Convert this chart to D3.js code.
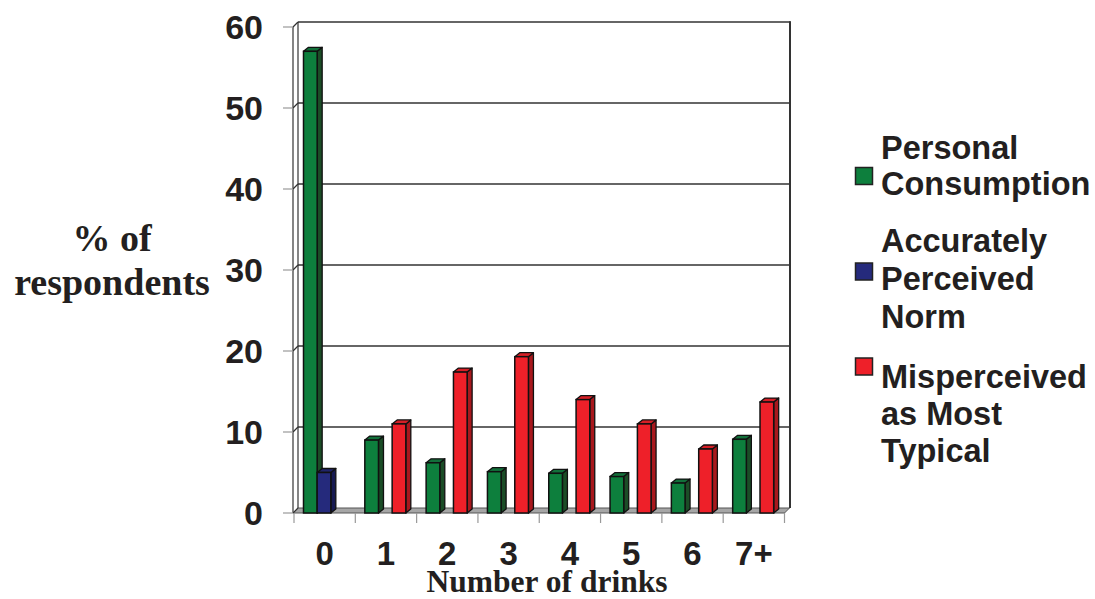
<!DOCTYPE html>
<html>
<head>
<meta charset="utf-8">
<script src="https://cdn.jsdelivr.net/npm/d3@7"></script>
<style>
  html, body { margin: 0; padding: 0; background: #fff; }
  svg { display: block; }
</style>
</head>
<body>
<svg id="chart" width="1095" height="599"></svg>
<script>
// Drinks per occasion: actual behaviour vs. perceived norm
const categories = ["0", "1", "2", "3", "4", "5", "6", "7+"];
const seriesNames = ["Personal Consumption", "Accurately Perceived Norm", "Misperceived as Most Typical"];
const personalConsumption = [57, 9, 6.2, 5.1, 4.9, 4.5, 3.7, 9.1];
const accuratelyPerceived = [5, 0, 0, 0, 0, 0, 0, 0];
const misperceived = [0, 11, 17.4, 19.3, 14, 11, 7.9, 13.7];
const yTicks = [0, 10, 20, 30, 40, 50, 60];
const legendLines = [
  ["Personal", "Consumption"],
  ["Accurately", "Perceived", "Norm"],
  ["Misperceived", "as Most", "Typical"]
];

const seriesValues = [personalConsumption, accuratelyPerceived, misperceived];
const frontFill = ["#0d7f3d", "#252a7c", "#ee2029"];
const sideFill = ["#1b4d27", "#171a52", "#a8181d"];
const topFill = ["#12703a", "#20246a", "#d61f26"];

const svg = d3.select("#chart");
const sansBold = "'Liberation Sans', Arial, sans-serif";
const serifBold = "'Liberation Serif', 'Times New Roman', serif";
const ink = "#231f20";

// Plot frame (front plane) and 3D depth of the walls
const x0 = 294, x1 = 784.5;
const y = d3.scaleLinear().domain([0, 60]).range([513, 27]);
const wallDx = 5, wallDy = 5;
const barDx = 5, barDy = 4;

const x = d3.scaleBand().domain(categories).range([x0, x1]).paddingInner(0).paddingOuter(0);
const sub = d3.scaleBand().domain(d3.range(3)).range([9.5, 50.5]).padding(0);

const g = svg.append("g");

// Floor
g.append("path")
  .attr("d", `M${x0 - 1},${y(0)} L${x1},${y(0)} L${x1 + wallDx},${y(0) - wallDy} L${x0 - 1 + wallDx},${y(0) - wallDy} Z`)
  .attr("fill", "#a6a6a6").attr("stroke", "#555").attr("stroke-width", 1);

// Back wall grid lines
g.selectAll("line.grid").data(yTicks.filter(v => v > 0)).join("line")
  .attr("class", "grid")
  .attr("x1", x0 - 1 + wallDx).attr("x2", x1 + wallDx + 1)
  .attr("y1", d => y(d) - wallDy).attr("y2", d => y(d) - wallDy)
  .attr("stroke", "#333").attr("stroke-width", 1.6);

// Grid lines continuing across the left side wall
g.selectAll("line.sidegrid").data(yTicks).join("line")
  .attr("class", "sidegrid")
  .attr("x1", x0 - 1).attr("x2", x0 - 1 + wallDx)
  .attr("y1", d => y(d)).attr("y2", d => y(d) - wallDy)
  .attr("stroke", "#333").attr("stroke-width", 1.2);

// Back wall edges
g.append("line")
  .attr("x1", x0 - 1 + wallDx).attr("x2", x0 - 1 + wallDx)
  .attr("y1", y(60) - wallDy).attr("y2", y(0) - wallDy)
  .attr("stroke", "#333").attr("stroke-width", 1.2);
g.append("line")
  .attr("x1", x1 + wallDx + 0.5).attr("x2", x1 + wallDx + 0.5)
  .attr("y1", y(60) - wallDy - 0.8).attr("y2", y(0) - wallDy)
  .attr("stroke", "#333").attr("stroke-width", 2);

// Front edge of the left wall (value axis)
g.append("line")
  .attr("x1", x0 - 1).attr("x2", x0 - 1)
  .attr("y1", y(60)).attr("y2", y(0))
  .attr("stroke", "#333").attr("stroke-width", 1.2);

// Value axis ticks and labels
g.selectAll("line.ytick").data(yTicks).join("line")
  .attr("class", "ytick")
  .attr("x1", x0 - 11).attr("x2", x0 - 1)
  .attr("y1", d => y(d)).attr("y2", d => y(d))
  .attr("stroke", "#999").attr("stroke-width", 1.2);
g.selectAll("text.ylab").data(yTicks).join("text")
  .attr("class", "ylab")
  .attr("x", 263).attr("y", d => y(d) + 12)
  .attr("text-anchor", "end")
  .attr("font-family", sansBold).attr("font-weight", "bold").attr("font-size", 34)
  .attr("fill", ink)
  .text(d => d);

// Category ticks below the floor
g.selectAll("line.xtick").data(categories.concat(["end"])).join("line")
  .attr("class", "xtick")
  .attr("x1", (d, i) => i < categories.length ? x(d) : x1)
  .attr("x2", (d, i) => i < categories.length ? x(d) : x1)
  .attr("y1", y(0)).attr("y2", y(0) + 10)
  .attr("stroke", "#999").attr("stroke-width", 1.2);

// 3D bars
const bars = [];
categories.forEach((c, ci) => {
  seriesValues.forEach((vals, si) => {
    if (vals[ci] > 0) bars.push({ c, si, v: vals[ci] });
  });
});
const barG = g.selectAll("g.bar").data(bars).join("g").attr("class", "bar");
barG.each(function (d) {
  const sel = d3.select(this);
  const bx = x(d.c) + sub(d.si);
  const bw = sub.bandwidth();
  const by = y(d.v);
  const base = y(0);
  // side face
  sel.append("path")
    .attr("d", `M${bx + bw},${by} L${bx + bw + barDx},${by - barDy} L${bx + bw + barDx},${base - barDy} L${bx + bw},${base} Z`)
    .attr("fill", sideFill[d.si]).attr("stroke", "#111").attr("stroke-width", 1.3).attr("stroke-linejoin", "round");
  // top face
  sel.append("path")
    .attr("d", `M${bx},${by} L${bx + barDx},${by - barDy} L${bx + bw + barDx},${by - barDy} L${bx + bw},${by} Z`)
    .attr("fill", topFill[d.si]).attr("stroke", "#111").attr("stroke-width", 1.3).attr("stroke-linejoin", "round");
  // front face
  sel.append("rect")
    .attr("x", bx).attr("y", by).attr("width", bw).attr("height", base - by)
    .attr("fill", frontFill[d.si]).attr("stroke", "#111").attr("stroke-width", 1.5);
});

// Category labels
g.selectAll("text.xlab").data(categories).join("text")
  .attr("class", "xlab")
  .attr("x", d => x(d) + x.bandwidth() / 2)
  .attr("y", 565)
  .attr("text-anchor", "middle")
  .attr("font-family", sansBold).attr("font-weight", "bold").attr("font-size", 33)
  .attr("fill", ink)
  .text(d => d);

// Axis titles
svg.append("text")
  .attr("x", 547).attr("y", 592)
  .attr("text-anchor", "middle")
  .attr("font-family", serifBold).attr("font-weight", "bold").attr("font-size", 31.5)
  .attr("fill", ink)
  .text("Number of drinks");

const yTitle = svg.append("g")
  .attr("font-family", serifBold).attr("font-weight", "bold").attr("font-size", 38)
  .attr("fill", ink).attr("text-anchor", "middle");
yTitle.append("text").attr("x", 112).attr("y", 251).text("% of");
yTitle.append("text").attr("x", 112).attr("y", 295).text("respondents");

// Legend
const legendSwatchY = [176, 271.5, 366.5];
const legendBaselines = [[159, 195], [252, 290, 328], [388, 425, 462]];
const leg = svg.append("g");
seriesNames.forEach((name, i) => {
  leg.append("rect")
    .attr("x", 855.5).attr("y", legendSwatchY[i] - 8.5)
    .attr("width", 17).attr("height", 17)
    .attr("fill", frontFill[i]).attr("stroke", "#222").attr("stroke-width", 1.5);
  legendLines[i].forEach((line, j) => {
    leg.append("text")
      .attr("x", 881).attr("y", legendBaselines[i][j])
      .attr("font-family", sansBold).attr("font-weight", "bold").attr("font-size", 32.5)
      .attr("fill", ink)
      .text(line);
  });
});
</script>
</body>
</html>
